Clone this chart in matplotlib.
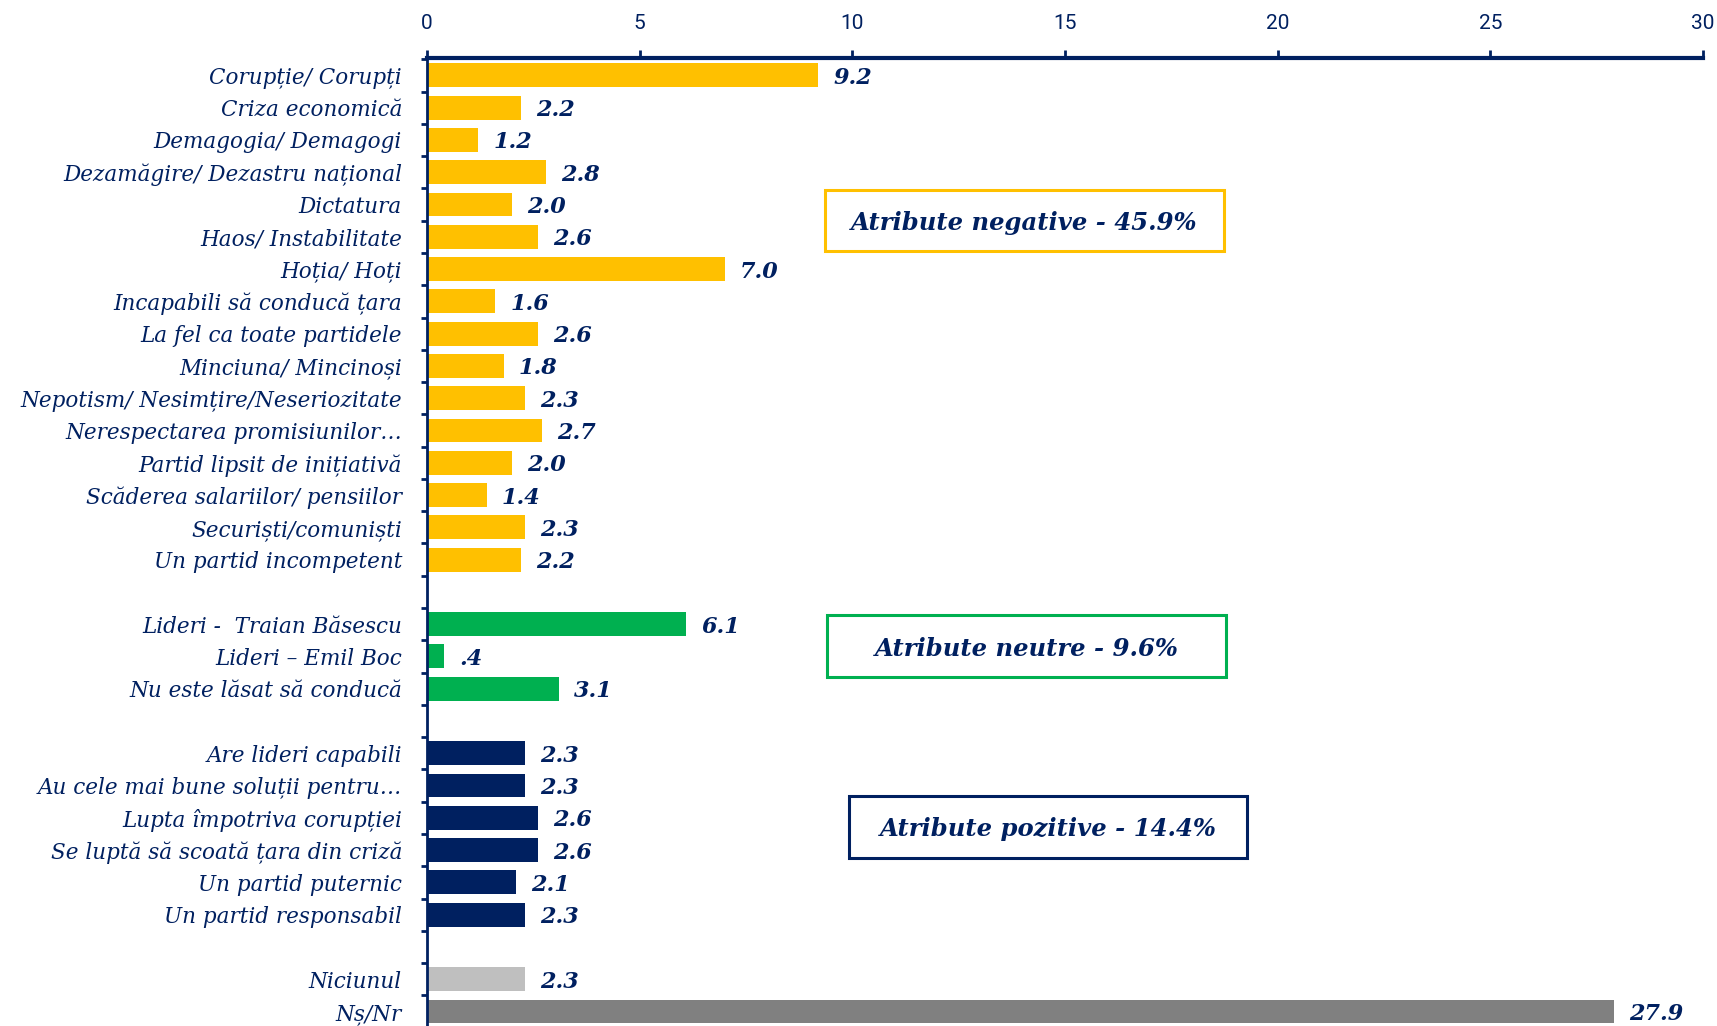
import matplotlib
matplotlib.use('Agg')
import matplotlib.pyplot as plt
from matplotlib.patches import Rectangle
from matplotlib.ticker import FixedLocator

# data, grouped as in the original
negative_labels = ['Corupție/ Corupți', 'Criza economică', 'Demagogia/ Demagogi',
                   'Dezamăgire/ Dezastru național', 'Dictatura', 'Haos/ Instabilitate',
                   'Hoția/ Hoți', 'Incapabili să conducă țara', 'La fel ca toate partidele',
                   'Minciuna/ Mincinoși', 'Nepotism/ Nesimțire/Neseriozitate',
                   'Nerespectarea promisiunilor…', 'Partid lipsit de inițiativă',
                   'Scăderea salariilor/ pensiilor', 'Securiști/comuniști',
                   'Un partid incompetent']
negative_values = [9.2, 2.2, 1.2, 2.8, 2.0, 2.6, 7.0, 1.6, 2.6, 1.8, 2.3, 2.7, 2.0, 1.4, 2.3, 2.2]

neutral_labels = ['Lideri -  Traian Băsescu', 'Lideri – Emil Boc', 'Nu este lăsat să conducă']
neutral_values = [6.1, 0.4, 3.1]

positive_labels = ['Are lideri capabili', 'Au cele mai bune soluții pentru…',
                   'Lupta împotriva corupției', 'Se luptă să scoată țara din criză',
                   'Un partid puternic', 'Un partid responsabil']
positive_values = [2.3, 2.3, 2.6, 2.6, 2.1, 2.3]

other_labels = ['Niciunul', 'Nș/Nr']
other_values = [2.3, 27.9]

box_texts = ['Atribute negative - 45.9%', 'Atribute neutre - 9.6%', 'Atribute pozitive - 14.4%']

NAVY = '#002060'
YELLOW = '#FFC000'
GREEN = '#00B050'
LGRAY = '#BFBFBF'
DGRAY = '#808080'

# build rows with an empty slot between groups
groups = [
    (negative_labels, negative_values, [YELLOW] * len(negative_values)),
    (neutral_labels, neutral_values, [GREEN] * len(neutral_values)),
    (positive_labels, positive_values, [NAVY] * len(positive_values)),
    (other_labels, other_values, [LGRAY, DGRAY]),
]
ypos, labels, values, colors = [], [], [], []
row = 0
for lab, val, col in groups:
    for l, v, c in zip(lab, val, col):
        ypos.append(row)
        labels.append(l)
        values.append(v)
        colors.append(c)
        row += 1
    row += 1
n_rows = row - 1

fig = plt.figure(figsize=(17.17, 10.26), dpi=100)
ax = fig.add_axes([427 / 1717, 0.0, 1276 / 1717, 1 - 58 / 1026])

ax.barh(ypos, values, height=0.74, color=colors, edgecolor='none')

for y, v in zip(ypos, values):
    txt = f'{v:.1f}'
    if txt.startswith('0'):
        txt = txt[1:]
    ax.annotate(txt, (v, y), xytext=(11, 0), textcoords='offset points',
                ha='left', va='center_baseline', fontsize=16, fontweight='bold',
                fontstyle='italic', color=NAVY, family='DejaVu Serif')

ax.set_xlim(0, 30)
ax.set_ylim(n_rows - 0.55, -0.54)

ax.xaxis.tick_top()
ax.set_xticks(range(0, 31, 5))
ax.tick_params(axis='x', direction='out', length=6, width=2, color=NAVY,
               labelcolor=NAVY, labelsize=15, pad=12)
for t in ax.get_xticklabels():
    t.set_family(['Liberation Sans Narrow', 'Roboto', 'DejaVu Sans'])

ax.set_yticks(ypos)
ax.set_yticklabels(labels, fontsize=15.5, fontstyle='italic', color=NAVY,
                   family='DejaVu Serif')
ax.tick_params(axis='y', which='major', length=0, pad=18)
ax.yaxis.set_minor_locator(FixedLocator([i - 0.5 for i in range(n_rows + 1)]))
ax.tick_params(axis='y', which='minor', direction='out', length=4, width=2, color=NAVY)

for side in ['right', 'bottom']:
    ax.spines[side].set_visible(False)
ax.spines['top'].set_color(NAVY)
ax.spines['top'].set_linewidth(3)
ax.spines['left'].set_color(NAVY)
ax.spines['left'].set_linewidth(2)

# category summary boxes
box_specs = [(9.36, 4.5, YELLOW), (9.41, 17.68, GREEN), (9.91, 23.28, NAVY)]
for (x0, yc, ec), text in zip(box_specs, box_texts):
    w, h = 9.38, 1.9
    ax.add_patch(Rectangle((x0, yc - h / 2), w, h, fill=False, edgecolor=ec,
                           linewidth=2.2, clip_on=False))
    ax.text(x0 + w / 2, yc, text, ha='center', va='center_baseline', fontsize=17.5,
            fontweight='bold', fontstyle='italic', color=NAVY, family='DejaVu Serif')

fig.savefig('out.png', dpi=100)
